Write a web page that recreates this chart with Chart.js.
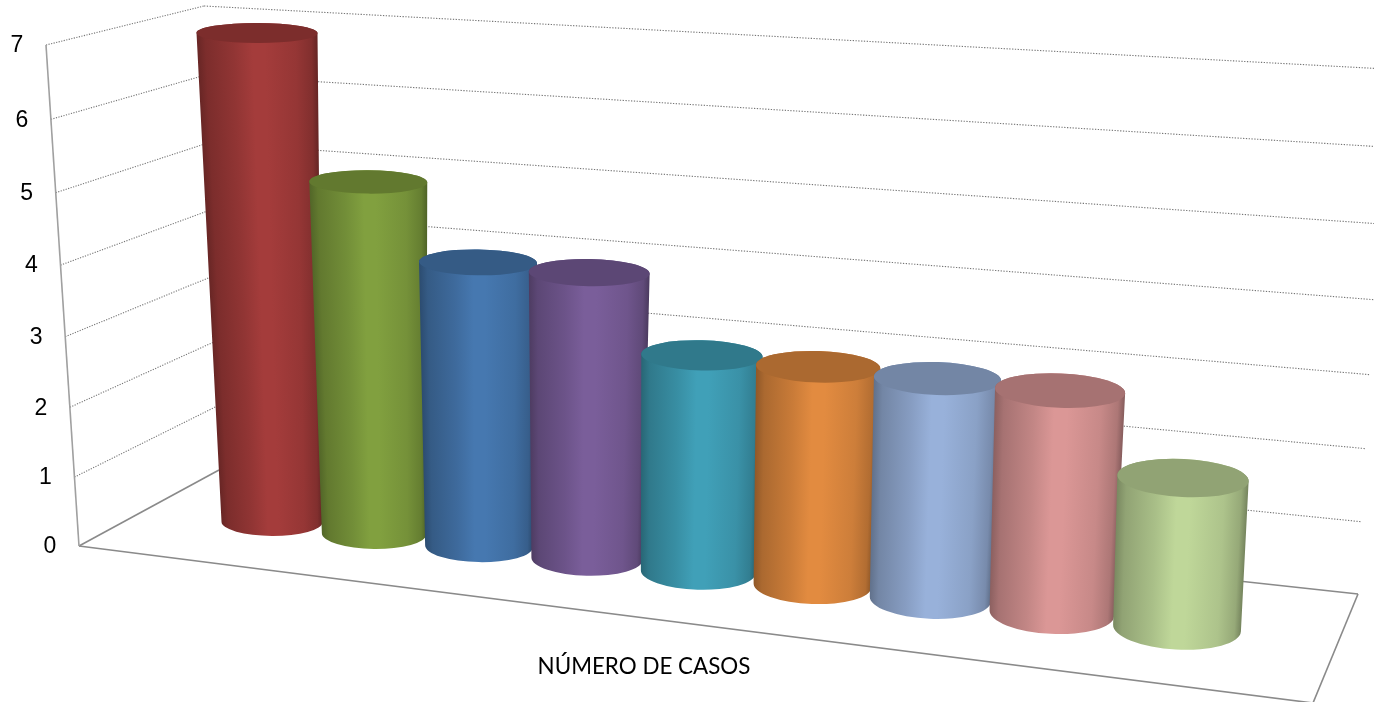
<!DOCTYPE html>
<html><head><meta charset="utf-8">
<style>html,body{margin:0;padding:0;background:#fff}canvas{display:block}</style>
<script src="https://cdn.jsdelivr.net/npm/chart.js@4/dist/chart.umd.js"></script>
</head><body>
<canvas id="c" width="1374" height="702"></canvas>
<script>
const categories = ['NÚMERO DE CASOS'];
const caseValues = [7, 5, 4, 4, 3, 3, 3, 3, 2];
const barColors = ['#A43C3B','#81A03F','#4678B0','#7A5E9A','#40A0B8','#E28B40','#98B1DA','#DB9796','#BFD799'];
const yMax = 7;
const yStep = 1;

/* projection of the flat chart onto the perspective view */
const lerp=(a,b,t)=>a+(b-a)*t;
function wallMap(p,qu0,qu1,qv){ // bilinear with gentle foreshortening in both directions
  const [a,b,c,d]=p;
  return (u,v)=>{
    const qu=lerp(qu0,qu1,v);
    const r=u/(u+(1-u)*qu), s=v/(v+(1-v)*qv);
    return [lerp(lerp(a[0],b[0],r),lerp(d[0],c[0],r),s),lerp(lerp(a[1],b[1],r),lerp(d[1],c[1],r),s)];
  };
}
const leftWall = wallMap([[79,546],[219,470],[204,6],[46,45]],1,1,1.045);
const backWall = wallMap([[219,470],[1358,594],[1386,69],[204,6]],1,1,1.045);
const barPlane = wallMap([[272,522],[1177,628],[1198,103],[257,33]],1.124,1.09,1);
const bilerp=(a,b,c,d,u,w)=>lerp(lerp(a,b,u),lerp(c,d,u),w);

function shade(hex,f){
  const n=parseInt(hex.slice(1),16);
  return `rgb(${((n>>16)&255)*f|0},${((n>>8)&255)*f|0},${(n&255)*f|0})`;
}
function disc(u,w){
  const [x,y]=barPlane(u,w);
  return {x,y,
    rx:bilerp(50.5,64,60.5,70,u,w),
    ry:bilerp(14,21.5,10,13,u,w),
    rot:lerp(0.3,3.2,u)*Math.PI/180*(1-w*0.4)};
}
const sideStops=[[0,.64],[.07,.76],[.3,.89],[.46,1],[.56,1],[.82,.91],[.95,.79],[1,.62]];

Chart.BarElement.prototype.draw=function(ctx){
  const chart=Chart.getChart(ctx.canvas);
  const first=chart.getDatasetMeta(0).data[0].x;
  const last=chart.getDatasetMeta(chart.data.datasets.length-1).data[0].x;
  const yS=chart.scales.y;
  const u=(this.x-first)/(last-first);
  const w=(yS.getValueForPixel(this.y)-yS.min)/(yS.max-yS.min);
  const color=this.options.backgroundColor;
  const T=disc(u,w),B=disc(u,0);
  const pt=(d,s)=>[d.x+s*d.rx*Math.cos(d.rot),d.y+s*d.rx*Math.sin(d.rot)];
  const tl=pt(T,-1),tr=pt(T,1),bl=pt(B,-1),br=pt(B,1);
  ctx.save();
  ctx.beginPath();
  ctx.moveTo(tl[0],tl[1]);
  ctx.lineTo(bl[0],bl[1]);
  ctx.ellipse(B.x,B.y,B.rx,B.ry,B.rot,Math.PI,0,true);
  ctx.lineTo(tr[0],tr[1]);
  ctx.ellipse(T.x,T.y,T.rx,T.ry,T.rot,0,Math.PI,true);
  ctx.closePath();
  ctx.clip();
  const y0=Math.floor(T.y-T.ry-2),y1=Math.ceil(B.y+B.ry+2);
  for(let y=y0;y<y1;y++){
    const t=(y-T.y)/(B.y-T.y);
    const xl=lerp(tl[0],bl[0],t),xr=lerp(tr[0],br[0],t);
    const g=ctx.createLinearGradient(xl,0,xr,0);
    sideStops.forEach(s=>g.addColorStop(s[0],shade(color,s[1])));
    ctx.fillStyle=g;
    ctx.fillRect(xl-3,y,xr-xl+6,1);
  }
  ctx.restore();
  ctx.save();
  ctx.beginPath();
  ctx.ellipse(T.x,T.y,T.rx,T.ry,T.rot,0,Math.PI*2);
  ctx.fillStyle=shade(color,.76);
  ctx.fill();
  ctx.restore();
};

const perspectiveWalls={
  id:'perspectiveWalls',
  beforeDatasetsDraw(chart){
    const ctx=chart.ctx,yS=chart.scales.y;
    const seg=(a,b)=>{ctx.beginPath();ctx.moveTo(a[0],a[1]);ctx.lineTo(b[0],b[1]);ctx.stroke();};
    ctx.save();
    yS.ticks.forEach(tk=>{
      const v=(tk.value-yS.min)/(yS.max-yS.min);
      if(v===0) return;
      ctx.strokeStyle='#767676';ctx.lineWidth=1.1;
      ctx.setLineDash([1.2,1.4]);
      seg(leftWall(0,v),leftWall(1,v));
      ctx.setLineDash([1.3,1.5]);
      seg(backWall(0,v),backWall(1,v));
    });
    ctx.setLineDash([]);
    ctx.strokeStyle='#8a8a8a';ctx.lineWidth=1.6;
    const front=[1313,703];
    seg([79,546],front);
    seg(front,[1358,594]);
    seg([1358,594],[219,470]);
    seg([79,546],[219,470]);
    ctx.strokeStyle='#a0a0a0';
    seg(leftWall(0,0),leftWall(0,1));
    ctx.fillStyle='#000';
    ctx.font='23px "Liberation Sans"';
    ctx.textAlign='center';ctx.textBaseline='middle';
    yS.ticks.forEach(tk=>{
      const v=(tk.value-yS.min)/(yS.max-yS.min);
      const p=leftWall(0,v);
      ctx.fillText(tk.label,p[0]-29,p[1]+1);
    });
    ctx.restore();
  }
};

new Chart(document.getElementById('c'),{
  type:'bar',
  data:{
    labels:categories,
    datasets:caseValues.map((v,i)=>({data:[v],backgroundColor:barColors[i],clip:false,order:caseValues.length-i}))
  },
  options:{
    responsive:false,animation:false,
    layout:{padding:{left:0,right:86,top:10,bottom:19}},
    plugins:{legend:{display:false},tooltip:{enabled:false},title:{display:false}},
    scales:{
      x:{grid:{display:false},border:{display:false},
         ticks:{color:'#000',font:{family:'Lato',size:22.4}}},
      y:{display:false,min:0,max:yMax,ticks:{stepSize:yStep}}
    }
  },
  plugins:[perspectiveWalls]
});
</script>
</body></html>
